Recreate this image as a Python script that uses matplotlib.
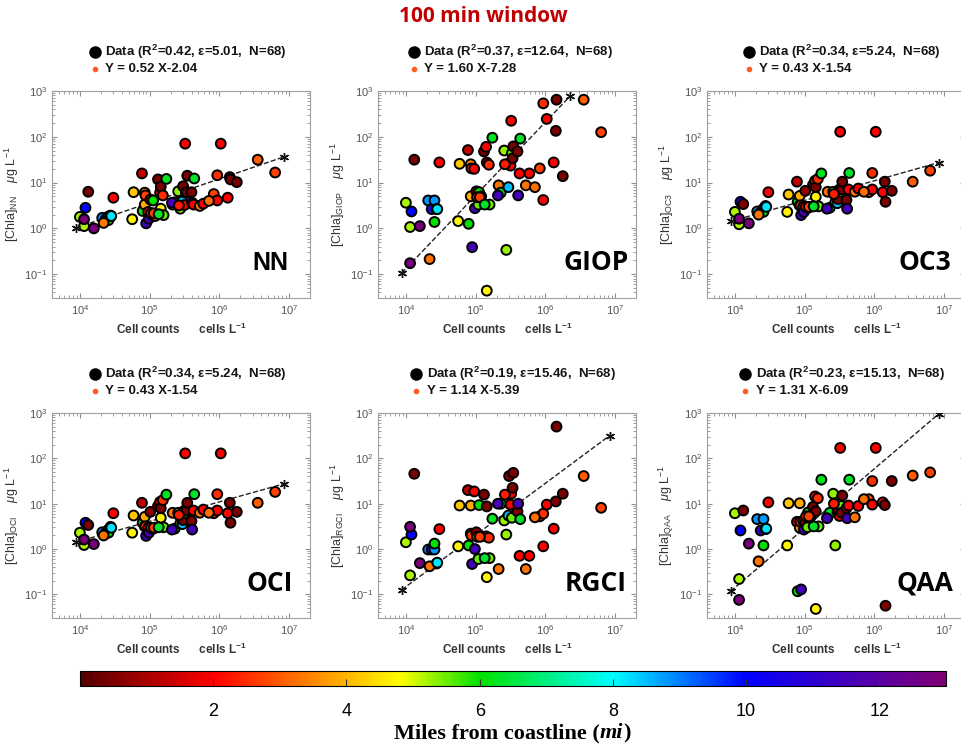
import numpy as np
import matplotlib
matplotlib.use("Agg")
import matplotlib.pyplot as plt
from matplotlib.colors import LinearSegmentedColormap, Normalize
from matplotlib.offsetbox import TextArea, HPacker, AnchoredOffsetbox

plt.rcParams["font.family"] = ["Liberation Sans", "DejaVu Sans"]
plt.rcParams["mathtext.fontset"] = "custom"
plt.rcParams["mathtext.rm"] = "Liberation Sans"
plt.rcParams["mathtext.it"] = "Liberation Sans:italic"
plt.rcParams["mathtext.bf"] = "Liberation Sans:bold"

# ---------------- data (log10 values) ----------------
# log10 cell counts (cells/L), shared by all panels
log_cells = [4.00, 4.08, 4.06, 4.06, 4.12, 4.20, 4.32, 4.37, 4.41, 4.41,
             4.44, 4.34, 4.48, 4.75, 4.77, 4.89, 4.90, 4.93, 4.93, 4.94,
             4.95, 4.98, 4.99, 5.01, 5.05, 5.04, 5.08, 5.16, 5.12, 5.15,
             5.16, 5.19, 5.20, 5.24, 5.33, 5.36, 5.32, 5.41, 5.44, 5.47,
             5.51, 5.48, 5.50, 5.52, 5.53, 5.54, 5.60, 5.61, 5.64, 5.63,
             5.72, 5.77, 5.92, 5.97, 5.97, 6.02, 6.12, 6.15, 6.16, 6.25,
             6.55, 6.80, 5.02, 5.06, 4.45, 5.42, 5.85, 5.13]
# miles from coastline (colour)
miles = [5.2, 10.0, 5.2, 12.8, 0.5, 12.8, 8.8, 11.0, 8.8, 6.0,
         8.0, 3.3, 2.0, 4.7, 4.2, 1.3, 6.0, 3.5, 3.9, 2.7,
         11.5, 2.0, 11.5, 0.7, 6.0, 5.5, 3.0, 4.7, 0.5, 2.0,
         0.5, 2.5, 5.5, 6.2, 3.3, 6.3, 11.5, 5.3, 5.3, 8.5,
         2.0, 0.5, 2.0, 5.5, 0.5, 0.5, 0.5, 11.5, 6.3, 2.0,
         3.3, 2.0, 2.7, 2.5, 2.0, 2.0, 2.0, 0.5, 0.5, 0.5,
         3.0, 2.7, 2.5, 2.7, 8.2, 2.3, 3.2, 6.3]

chl_NN = [0.25, 0.45, 0.05, 0.20, 0.80, 0.00, 0.23, 0.20, 0.26, 0.18,
          0.28, 0.12, 0.67, 0.20, 0.79, 1.20, 0.38, 0.78, 0.52, 0.72,
          0.11, 0.36, 0.21, 0.63, 0.61, 0.29, 0.27, 0.43, 1.07, 0.78,
          0.91, 0.72, 0.29, 1.08, 0.52, 0.57, 0.56, 0.81, 0.43, 0.59,
          1.85, 0.92, 0.51, 0.78, 0.79, 1.15, 0.79, 0.56, 1.09, 0.52,
          0.49, 0.54, 0.75, 1.16, 0.61, 1.85, 0.67, 1.12, 1.07, 1.01,
          1.50, 1.22, 0.33, 0.33, 0.27, 0.50, 0.60, 0.31]
chl_GIOP = [0.56, 0.37, 0.03, -0.76, 1.50, 0.05, 0.61, 0.42, 0.61, 0.14,
            0.42, -0.67, 1.44, 0.16, 1.41, 1.71, 0.10, 1.40, 0.70, 1.31,
            -0.41, 1.30, 0.44, 0.81, 0.79, 0.52, 0.70, -1.36, 1.68, 1.78,
            1.44, 1.39, 0.52, 1.98, 0.94, 0.78, 0.72, 1.70, -0.47, 0.90,
            2.35, 1.42, 1.37, 1.64, 1.53, 1.79, 1.68, 0.72, 1.96, 1.20,
            0.94, 1.20, 1.31, 2.73, 0.62, 2.39, 1.44, 2.13, 2.81, 1.14,
            2.81, 2.10, 0.68, 0.68, 0.42, 1.40, 0.90, 0.52]
chl_OC3 = [0.36, 0.58, 0.09, 0.21, 0.53, 0.11, 0.37, 0.35, 0.43, 0.36,
           0.49, 0.30, 0.79, 0.36, 0.74, 1.02, 0.58, 0.50, 0.71, 0.50,
           0.29, 0.47, 0.36, 0.82, 0.45, 0.45, 0.47, 0.69, 0.95, 1.04,
           0.90, 1.08, 0.48, 1.20, 0.80, 0.45, 0.43, 0.80, 0.57, 0.55,
           2.11, 0.64, 0.85, 0.80, 0.85, 1.02, 0.62, 0.43, 1.21, 0.85,
           0.80, 0.87, 0.79, 1.21, 0.85, 2.11, 0.79, 1.02, 0.58, 0.82,
           1.02, 1.26, 0.47, 0.47, 0.47, 0.75, 0.80, 0.48]
chl_OCI = list(chl_OC3)
chl_RGCI = [0.15, 0.32, -0.58, 0.49, 1.66, -0.31, -0.01, -0.01, -0.01, 0.12,
            -0.32, -0.38, 0.44, 0.06, 0.96, 1.30, 0.08, 0.34, 0.96, 0.30,
            -0.33, 1.27, 0.00, 0.37, 0.97, -0.22, 0.28, -0.62, 1.20, 0.28,
            0.94, 0.25, -0.20, 0.67, -0.44, 1.00, 1.00, 0.63, 0.32, 0.74,
            1.22, 1.61, 0.98, 0.69, 1.35, 1.68, 0.83, 1.00, 0.66, -0.15,
            -0.44, -0.15, 0.72, 0.78, 0.06, 0.98, 0.45, 1.05, 2.70, 1.22,
            1.61, 0.91, 0.27, 0.27, -0.30, 1.20, 0.70, -0.20]
chl_QAA = [0.79, 0.41, -0.66, -1.12, 0.85, 0.12, 0.66, 0.41, 0.66, 0.08,
           0.44, -0.27, 1.03, 0.08, 1.01, 0.60, -0.93, 0.47, 1.01, 0.60,
           -0.89, 0.62, 0.43, 0.59, 0.81, 0.48, 0.70, -1.32, 0.93, 1.16,
           0.83, 1.12, 0.50, 1.53, 0.70, 0.80, 0.68, 1.22, 0.08, 0.82,
           2.23, 0.85, 0.73, 0.95, 0.80, 1.18, 0.90, 0.68, 1.53, 0.96,
           0.70, 0.95, 1.10, 1.50, 0.98, 2.23, 1.03, 0.97, -1.25, 1.50,
           1.62, 1.69, 0.72, 0.72, 0.45, 1.00, 1.10, 0.50]

panel_names = ["NN", "GIOP", "OC3", "OCI", "RGCI", "QAA"]
panel_chl = [chl_NN, chl_GIOP, chl_OC3, chl_OCI, chl_RGCI, chl_QAA]
r2 = ["0.42", "0.37", "0.34", "0.34", "0.19", "0.23"]
eps = ["5.01", "12.64", "5.24", "5.24", "15.46", "15.13"]
n_pts = ["68"] * 6
slopes = [0.52, 1.60, 0.43, 0.43, 1.14, 1.31]
intercepts = [-2.04, -7.28, -1.54, -1.54, -5.39, -6.09]
fit_x_start = [3.94, 3.94, 3.94, 3.94, 3.94, 3.94]
fit_x_end = [6.92, 6.36, 6.92, 6.92, 6.92, 6.93]

# ---------------- styling ----------------
cmap = LinearSegmentedColormap.from_list("coast", [
    (0.0, (0.33, 0.0, 0.0)),
    (2 / 13, (1.0, 0.0, 0.0)),
    (3.4 / 13, (1.0, 0.5, 0.0)),
    (4.8 / 13, (1.0, 1.0, 0.0)),
    (6 / 13, (0.0, 0.88, 0.0)),
    (8 / 13, (0.0, 1.0, 1.0)),
    (10 / 13, (0.0, 0.0, 1.0)),
    (12 / 13, (0.35, 0.0, 0.65)),
    (1.0, (0.5, 0.0, 0.45)),
])
norm = Normalize(vmin=0, vmax=13)

W, H = 961, 749
fig = plt.figure(figsize=(W / 100, H / 100), dpi=100)

lefts = [52, 378, 707]
width = 258
rows = [(91, 298), (413, 618)]
dot_x = [0.167, 0.138, 0.163, 0.167, 0.148, 0.148]
name_fonts = ["Liberation Sans", "Open Sans", "Open Sans", "Open Sans", "Open Sans", "Open Sans"]
name_sizes = [18, 19, 19, 19, 19, 19]
asterisk = (6, 2, 0)

for i, name in enumerate(panel_names):
    r, c = divmod(i, 3)
    top, bot = rows[r]
    ax = fig.add_axes([lefts[c] / W, 1 - bot / H, width / W, (bot - top) / H])
    ax.set_xscale("log")
    ax.set_yscale("log")
    ax.set_xlim(10 ** 3.6, 10 ** 7.3)
    ax.set_ylim(10 ** -1.52, 10 ** 3)

    x = 10 ** np.array(log_cells)
    y = 10 ** np.array(panel_chl[i])
    ax.scatter(x, y, c=miles, cmap=cmap, norm=norm, s=50,
               edgecolors="black", linewidths=1.4, zorder=3)

    fx = np.array([fit_x_start[i], fit_x_end[i]])
    fy = slopes[i] * fx + intercepts[i]
    ax.plot(10 ** fx, 10 ** fy, "--", color="#222222", lw=1.0, zorder=2)
    ax.plot(10 ** fx, 10 ** fy, marker=asterisk, color="#111111", ms=6.5,
            mew=1.0, linestyle="none", zorder=4)

    for sp in ax.spines.values():
        sp.set_color("#a0a0a0")
        sp.set_linewidth(0.8)
    ax.tick_params(which="both", direction="in", top=True, right=True,
                   color="#909090", labelcolor="#555555", labelsize=8)
    ax.tick_params(which="major", length=3.5)
    ax.tick_params(which="minor", length=2)
    ax.set_xticks([1e4, 1e5, 1e6, 1e7])
    ax.set_yticks([1e-1, 1e0, 1e1, 1e2, 1e3])

    ax.set_xlabel(r"Cell counts      cells L$^{\mathbf{-1}}$", fontsize=8.5,
                  fontweight="bold", color="#333333", labelpad=4)
    ax.set_ylabel(r"[Chla]$_{\mathrm{" + name + r"}}$    $\mu$g L$^{-1}$",
                  fontsize=9, color="#333333", labelpad=2)

    ax.text(0.845, 0.17, name, transform=ax.transAxes, ha="center", va="center",
            fontsize=name_sizes[i], fontweight="bold", family=name_fonts[i],
            color="black")

    # legend above the axes
    dx = dot_x[i]
    ax.plot([dx], [1.19], "o", color="black", ms=8, transform=ax.transAxes,
            clip_on=False)
    ax.plot([dx], [1.105], "o", color="#ff5a1f", ms=3, transform=ax.transAxes,
            clip_on=False)
    ax.text(dx + 0.04, 1.19,
            r"Data (R$^{\mathbf{2}}$=" + r2[i] + ", \u03b5=" + eps[i] + ",  N=" + n_pts[i] + ")",
            transform=ax.transAxes, ha="left", va="center", fontsize=9.5,
            fontweight="bold", color="#151515")
    ax.text(dx + 0.04, 1.105,
            "Y = %.2f X%.2f" % (slopes[i], intercepts[i]),
            transform=ax.transAxes, ha="left", va="center", fontsize=9.5,
            fontweight="bold", color="#151515")

fig.text(483 / W, 1 - 16 / H, "100 min window", ha="center", va="center",
         fontsize=15, fontweight="bold", family="Open Sans", color="#c00000")

# colorbar
cax = fig.add_axes([80 / W, 1 - 686 / H, 866 / W, 15 / H])
sm = matplotlib.cm.ScalarMappable(norm=norm, cmap=cmap)
cb = fig.colorbar(sm, cax=cax, orientation="horizontal")
cb.set_ticks([2, 4, 6, 8, 10, 12])
cb.ax.tick_params(direction="in", length=5, labelsize=13, color="#333333", pad=12)
cb.outline.set_linewidth(0.8)

parts = [TextArea("Miles from coastline (", textprops=dict(family="Liberation Serif", fontweight="bold", fontsize=16)),
         TextArea("mi", textprops=dict(family="Liberation Serif", fontweight="bold", style="italic", fontsize=16)),
         TextArea(")", textprops=dict(family="Liberation Serif", fontweight="bold", fontsize=16))]
box = HPacker(children=parts, pad=0, sep=0, align="baseline")
anch = AnchoredOffsetbox(loc="center", child=box, pad=0, frameon=False,
                         bbox_to_anchor=(512 / W, 1 - 733 / H),
                         bbox_transform=fig.transFigure, borderpad=0)
fig.add_artist(anch)

fig.savefig("out.png", dpi=100)
